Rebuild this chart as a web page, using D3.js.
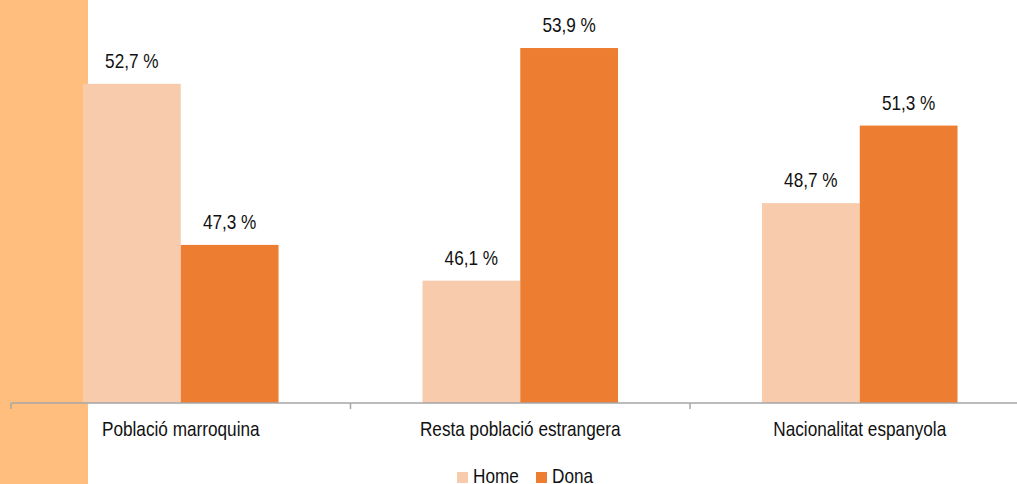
<!DOCTYPE html>
<html>
<head>
<meta charset="utf-8">
<script src="https://cdn.jsdelivr.net/npm/d3@7"></script>
<style>
  body { margin: 0; background: #fff; }
  svg { display: block; }
  text { font-family: "Liberation Sans", Arial, sans-serif; fill: #111; }
</style>
</head>
<body>
<div id="chart"></div>
<script>
const categories = ['Població marroquina', 'Resta població estrangera', 'Nacionalitat espanyola'];
const seriesNames = ['Home', 'Dona'];
const homeValues = [52.7, 46.1, 48.7];
const donaValues = [47.3, 53.9, 51.3];
const seriesColors = ['#F8CBAD', '#ED7D31'];

const width = 1017, height = 484;
const axisY = 403;
const plotLeft = 11, bandStep = 339.5;
const narrow = 0.86; // squeeze text to look like a narrow face

const svg = d3.select('#chart').append('svg')
    .attr('width', width)
    .attr('height', height);

// orange strip on the left
svg.append('rect')
    .attr('x', 0).attr('y', 0)
    .attr('width', 88).attr('height', height)
    .attr('fill', '#FFBE7D');

const xScale = d3.scaleBand()
    .domain(categories)
    .range([plotLeft, plotLeft + bandStep * categories.length])
    .paddingInner(0)
    .paddingOuter(0);

const xInner = d3.scaleBand()
    .domain(seriesNames)
    .range([0, xScale.bandwidth()])
    .paddingInner(0)
    .paddingOuter(0.7361);

const yScale = d3.scaleLinear()
    .domain([42, 55])
    .range([axisY, axisY - 13 * 29.83]);

const data = categories.map((c, i) => ({
    category: c,
    values: [
        { key: 'Home', value: homeValues[i] },
        { key: 'Dona', value: donaValues[i] }
    ]
}));

const groups = svg.selectAll('.group')
    .data(data)
    .join('g')
    .attr('class', 'group')
    .attr('transform', d => `translate(${xScale(d.category)},0)`);

groups.selectAll('rect')
    .data(d => d.values)
    .join('rect')
    .attr('x', d => xInner(d.key))
    .attr('y', d => yScale(d.value))
    .attr('width', xInner.bandwidth())
    .attr('height', d => axisY - yScale(d.value))
    .attr('fill', (d, i) => seriesColors[i]);

groups.selectAll('.label')
    .data(d => d.values)
    .join('text')
    .attr('class', 'label')
    .attr('transform', d => `translate(${xInner(d.key) + xInner.bandwidth() / 2},${yScale(d.value) - 16}) scale(${narrow},1)`)
    .attr('text-anchor', 'middle')
    .style('font-size', '20px')
    .text(d => d.value.toFixed(1).replace('.', ',') + ' %');

// x axis
const xAxis = d3.axisBottom(xScale).tickSize(0).tickPadding(0);
const xAxisG = svg.append('g')
    .attr('transform', `translate(0,${axisY})`)
    .call(xAxis);
xAxisG.select('.domain').remove();
xAxisG.selectAll('text')
    .attr('y', 0)
    .attr('dy', 0)
    .attr('transform', `translate(0,33) scale(${narrow},1)`)
    .style('font-size', '20px')
    .style('font-family', '"Liberation Sans", Arial, sans-serif')
    .attr('fill', '#111');

svg.append('line')
    .attr('x1', plotLeft).attr('x2', width)
    .attr('y1', axisY).attr('y2', axisY)
    .attr('stroke', '#A6A6A6').attr('stroke-width', 1.5);

const boundaries = d3.range(categories.length + 1).map(i => plotLeft + i * bandStep);
svg.selectAll('.tick-mark')
    .data(boundaries)
    .join('line')
    .attr('class', 'tick-mark')
    .attr('x1', d => d).attr('x2', d => d)
    .attr('y1', axisY).attr('y2', axisY + 6)
    .attr('stroke', '#A6A6A6').attr('stroke-width', 1.5);

// legend
const legendX = [457, 536];
const legend = svg.selectAll('.legend')
    .data(seriesNames)
    .join('g')
    .attr('class', 'legend')
    .attr('transform', (d, i) => `translate(${legendX[i]},472)`);
legend.append('rect')
    .attr('width', 11).attr('height', 11)
    .attr('fill', (d, i) => seriesColors[i]);
legend.append('text')
    .attr('transform', `translate(16,11) scale(${narrow},1)`)
    .style('font-size', '20px')
    .text(d => d);
</script>
</body>
</html>
